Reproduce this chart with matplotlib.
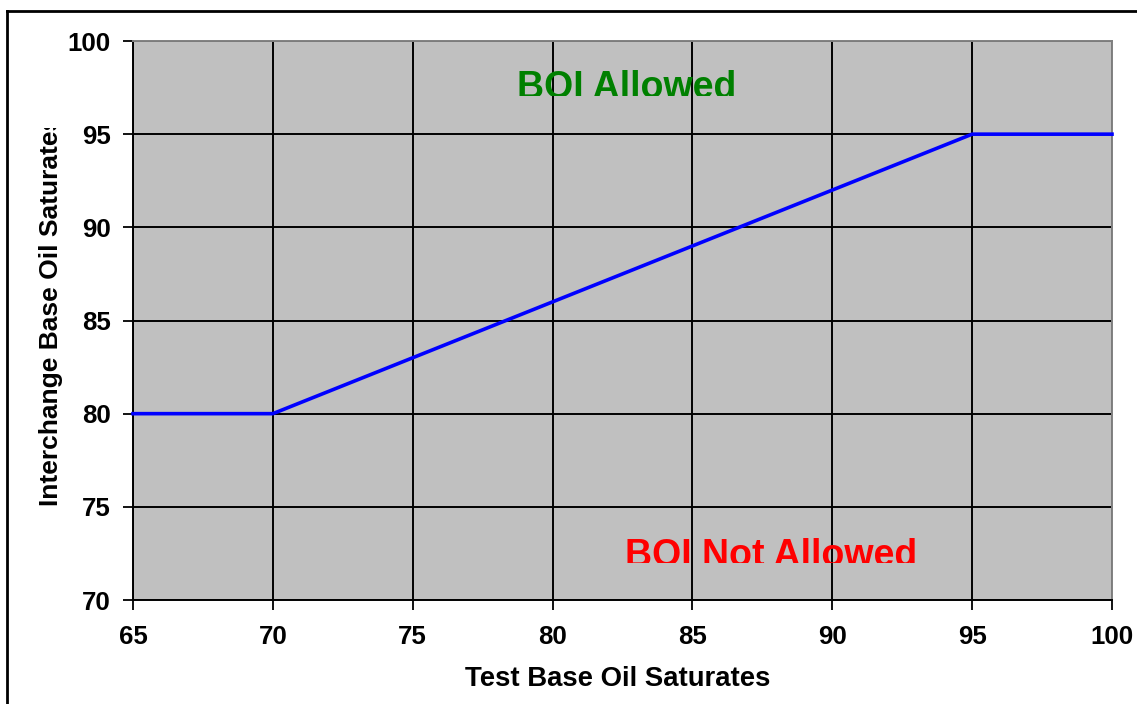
import matplotlib
matplotlib.use("Agg")
import matplotlib.pyplot as plt
from matplotlib.patches import Rectangle
from matplotlib.lines import Line2D

# Data points
x_data = [65, 70, 95, 100]
y_data = [80, 80, 95, 95]

x_ticks = [65, 70, 75, 80, 85, 90, 95, 100]
y_ticks = [70, 75, 80, 85, 90, 95, 100]

plt.rcParams['font.family'] = ['Liberation Sans', 'DejaVu Sans']
plt.rcParams['font.weight'] = 'bold'

W, H = 1137, 704
fig = plt.figure(figsize=(W / 100, H / 100), dpi=100)
fig.patch.set_facecolor('white')

ax = fig.add_axes([133 / W, 1 - 600 / H, (1112 - 133) / W, (600 - 41) / H])
ax.set_facecolor('#c0c0c0')

# Blue limit line
ax.plot(x_data, y_data, color='#0000ff', linewidth=2.6, zorder=3, clip_on=False)

ax.set_xlim(65, 100)
ax.set_ylim(70, 100)
ax.set_xticks(x_ticks)
ax.set_yticks(y_ticks)
ax.tick_params(axis='both', labelsize=18.6, length=7, width=1.3, color='black')
ax.tick_params(axis='x', pad=11)
ax.tick_params(axis='y', pad=9)
ax.grid(True, color='black', linewidth=1.4)
ax.set_axisbelow(True)

for side in ['left', 'bottom']:
    ax.spines[side].set_color('black')
    ax.spines[side].set_linewidth(1.4)
for side in ['top', 'right']:
    ax.spines[side].set_color('#808080')
    ax.spines[side].set_linewidth(1.4)

# Region labels, clipped at the bottom like the original
clip_top = Rectangle((65, 97.05), 35, 10, transform=ax.transData)
t1 = ax.text(82.63, 96.94, 'BOI Allowed', color='#008000', fontsize=27,
             fontweight='bold', ha='center', va='baseline', zorder=4, clip_on=True)
t1.set_clip_path(clip_top)
clip_bot = Rectangle((65, 71.98), 35, 10, transform=ax.transData)
t2 = ax.text(87.8, 71.82, 'BOI Not Allowed', color='#ff0000', fontsize=27,
             fontweight='bold', ha='center', va='baseline', zorder=4, clip_on=True)
t2.set_clip_path(clip_bot)

ax.set_xlabel('Test Base Oil Saturates', fontsize=19.8, fontweight='bold')
ax.xaxis.set_label_coords((618 - 133) / 979, -(666 - 600) / 559)
ylab = ax.set_ylabel('Interchange Base Oil Saturates', fontsize=19.0, fontweight='bold',
                     clip_on=True)
ax.yaxis.set_label_coords(-(133 - 63) / 979, (600 - 311) / 559)
ylab.set_clip_path(Rectangle((0, 0), 1, 1 - 128 / H, transform=fig.transFigure))

# Outer frame (top and left edges visible)
fig.add_artist(Line2D([7 / W, 1], [1 - 11 / H, 1 - 11 / H], color='black', linewidth=2))
fig.add_artist(Line2D([7 / W, 7 / W], [0, 1 - 11 / H], color='black', linewidth=2))

fig.savefig('out.png', dpi=100)
